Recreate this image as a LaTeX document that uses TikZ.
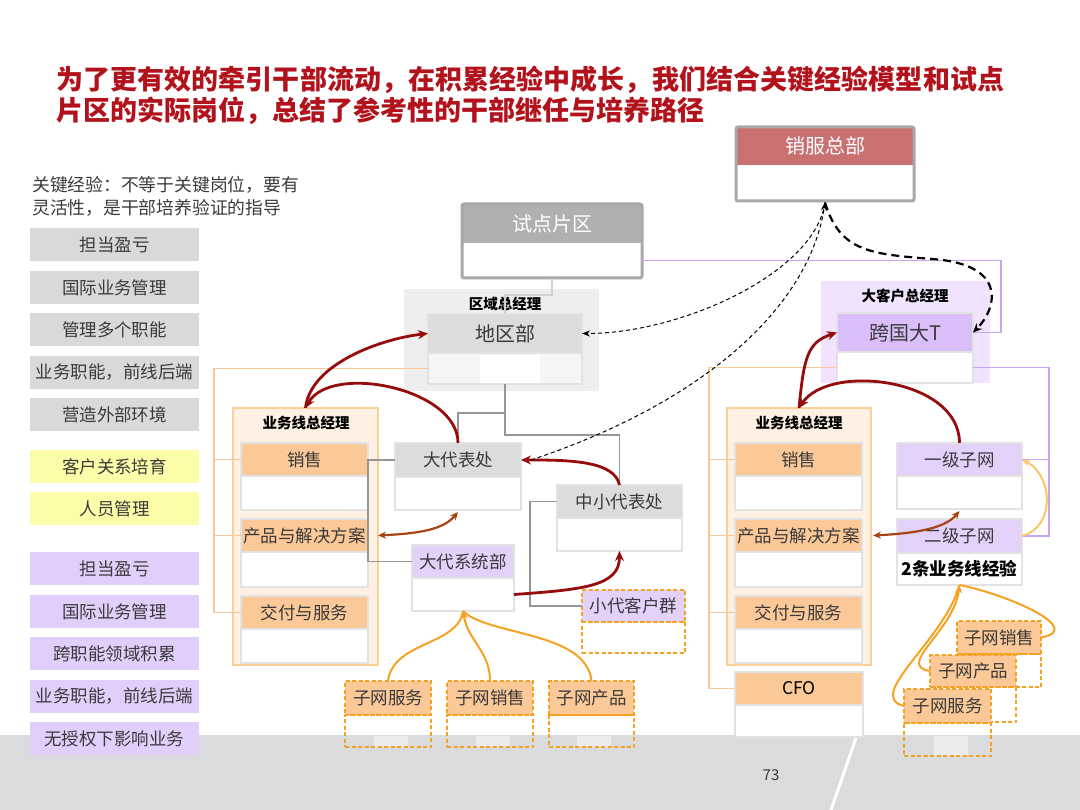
\documentclass[tikz,border=0pt]{standalone}
\usepackage{fontspec}
\setmainfont{Noto Sans CJK SC}
\usetikzlibrary{positioning,arrows.meta,fit}
\XeTeXlinebreaklocale "zh"
\XeTeXlinebreakskip=0pt plus 4pt
\definecolor{titlered}{RGB}{178,18,28}
\definecolor{labelgray}{RGB}{58,58,58}
\definecolor{keygray}{RGB}{217,217,217}
\definecolor{keyyellow}{RGB}{253,252,168}
\definecolor{keypurple}{RGB}{225,206,250}
\definecolor{cardline}{RGB}{226,226,226}
\definecolor{headgray}{RGB}{220,220,220}
\definecolor{pilotgray}{RGB}{176,176,176}
\definecolor{frameline}{RGB}{168,168,168}
\definecolor{hqred}{RGB}{201,112,112}
\definecolor{headorange}{RGB}{251,200,152}
\definecolor{headpurple}{RGB}{228,209,250}
\definecolor{mncpurple}{RGB}{217,190,250}
\definecolor{regiongray}{RGB}{238,238,238}
\definecolor{bizfill}{RGB}{254,240,226}
\definecolor{bizedge}{RGB}{251,207,150}
\definecolor{kafill}{RGB}{241,226,253}
\definecolor{linkgray}{RGB}{150,150,150}
\definecolor{linkpurple}{RGB}{200,165,240}
\definecolor{linkorange}{RGB}{250,200,150}
\definecolor{pathred}{RGB}{150,12,12}
\definecolor{pathbrown}{RGB}{168,68,20}
\definecolor{subnetorange}{RGB}{245,162,35}
\definecolor{arcorange}{RGB}{250,198,105}
\definecolor{bandgray}{RGB}{218,219,220}
\definecolor{stripgray}{RGB}{236,236,238}
\tikzset{
  titletext/.style={font=\fontsize{27}{31}\selectfont\bfseries, text=titlered, inner sep=0pt},
  notetext/.style={font=\fontsize{17.8}{23}\selectfont, text=labelgray, inner sep=0pt, align=left},
  keybox/.style={minimum width=169pt, minimum height=33pt, inner sep=0pt, outer sep=0pt, text=labelgray, font=\fontsize{17.5}{17.5}\selectfont},
  groupbg/.style={inner sep=0pt, outer sep=0pt},
  grouplabel/.style={font=\fontsize{14.5}{14.5}\selectfont\bfseries, inner sep=0pt},
  cardhead/.style={draw=cardline, line width=1.2pt, inner sep=0pt, outer sep=0pt, text=labelgray, font=\fontsize{17.5}{17.5}\selectfont},
  cardbody/.style={draw=cardline, line width=1.2pt, fill=white, inner sep=0pt, outer sep=0pt},
  subnethead/.style={cardhead, draw=subnetorange, line width=1.6pt, dash pattern=on 4pt off 2.5pt, fill=headorange},
  subnetbody/.style={draw=subnetorange, line width=1.6pt, dash pattern=on 4pt off 2.5pt, inner sep=0pt, outer sep=0pt},
  frame/.style={draw=frameline, line width=3pt, rounded corners=2pt, inner sep=0pt},
  graylink/.style={draw=linkgray, line width=1.1pt},
  purplelink/.style={draw=linkpurple, line width=1.3pt},
  orangelink/.style={draw=linkorange, line width=1.3pt},
  redpath/.style={draw=pathred, line width=2.8pt, -{Stealth[length=10pt,width=9pt]}},
  brownpath/.style={draw=pathbrown, line width=2.2pt, {Stealth[length=8pt,width=7pt]}-{Stealth[length=8pt,width=7pt]}},
  subnetline/.style={draw=subnetorange, line width=2pt},
  subnetpath/.style={subnetline, -{Stealth[length=8pt,width=7pt]}},
  hqlink/.style={draw=black, line width=1pt, dash pattern=on 4pt off 3pt, -{Stealth[length=8pt,width=6pt]}},
  hqlinkbold/.style={draw=black, line width=2.2pt, dash pattern=on 8pt off 5pt, -{Stealth[length=9pt,width=8pt]}}
}
\begin{document}
\begin{tikzpicture}[x=1pt,y=-1pt]
\useasboundingbox (0,0) rectangle (1080,810);
% page background
\fill[bandgray] (0,735) rectangle (1080,810);
\draw[white, line width=3pt] (857,735) -- (831,810);
\foreach \sx/\sh in {374/11, 476/11, 577/11, 934/20} \fill[stripgray] (\sx,736) rectangle ++(34,\sh);

% title and note
\node[titletext, anchor=base west, text width=948pt, align=justify] (title1) at (56,90) {\noindent\parfillskip=0pt 为了更有效的牵引干部流动，在积累经验中成长，我们结合关键经验模型和试点\par};
\node[titletext, anchor=base west] (title2) at (56,121) {片区的实际岗位，总结了参考性的干部继任与培养路径};
\node[notetext, anchor=north west] (keynote) at (32,176) {关键经验：不等于关键岗位，要有\\灵活性，是干部培养验证的指导};

% key experience column
\foreach \ky/\kt [count=\ki] in {244.5/担当盈亏, 287.5/国际业务管理, 329.5/管理多个职能, 372.5/业务职能，前线后端, 414.5/营造外部环境}
  \node[keybox, fill=keygray] (keyg\ki) at (114.5,\ky) {\kt};
\foreach \ky/\kt [count=\ki] in {466.5/客户关系培育, 508.5/人员管理}
  \node[keybox, fill=keyyellow] (keyy\ki) at (114.5,\ky) {\kt};
\foreach \ky/\kt [count=\ki] in {568.5/担当盈亏, 611.5/国际业务管理, 653.5/跨职能领域积累, 696.5/业务职能，前线后端, 738.5/无授权下影响业务}
  \node[keybox, fill=keypurple] (keyp\ki) at (114.5,\ky) {\kt};

% group backgrounds
\node[groupbg, fill=regiongray, minimum width=195pt, minimum height=102pt] (qyzjl) at (501.5,340) {};
\node[grouplabel] (qyzjll) at (505,304) {区域总经理};
\node[groupbg, fill=bizfill, draw=bizedge, line width=1.3pt, minimum width=145pt, minimum height=257pt] (ywxL) at (305.5,536.5) {};
\node[grouplabel] (ywxLl) at (306,423) {业务线总经理};
\node[groupbg, fill=bizfill, draw=bizedge, line width=1.3pt, minimum width=144pt, minimum height=257pt] (ywxR) at (799,536.5) {};
\node[grouplabel] (ywxRl) at (799,423) {业务线总经理};
\node[groupbg, fill=kafill, minimum width=169pt, minimum height=102pt] (dkhzjl) at (905.5,332) {};
\node[grouplabel] (dkhzjll) at (905,296) {大客户总经理};

% headquarters and pilot area
\node[cardhead, draw=none, fill=hqred, text=white, minimum width=178pt, minimum height=38pt, font=\fontsize{20}{20}\selectfont] (xfzbh) at (825,146) {销服总部};
\node[cardbody, draw=none, minimum width=178pt, minimum height=36pt, below=0pt of xfzbh] (xfzbb) {};
\node[frame, fit=(xfzbh)(xfzbb)] (xfzb) {};
\node[cardhead, draw=none, fill=pilotgray, text=white, minimum width=180pt, minimum height=39pt, font=\fontsize{20}{20}\selectfont] (sdpqh) at (552,223.5) {试点片区};
\node[cardbody, draw=none, minimum width=180pt, minimum height=35pt, below=0pt of sdpqh] (sdpqb) {};
\node[frame, fit=(sdpqh)(sdpqb)] (sdpq) {};

% region side
\node[cardhead, fill=headgray, minimum width=154pt, minimum height=39pt, font=\fontsize{20}{20}\selectfont] (dqbh) at (505,333.5) {地区部};
\node[cardbody, fill=black!4, minimum width=154pt, minimum height=31pt, below=0pt of dqbh] (dqbb) {};
\fill[white] (480,355) rectangle (540,383);
\node[cardhead, fill=headgray, minimum width=126pt, minimum height=34pt] (ddbch) at (458,460) {大代表处};
\node[cardbody, minimum width=126pt, minimum height=33pt, below=0pt of ddbch] (ddbcb) {};
\node[cardhead, fill=headgray, minimum width=125pt, minimum height=33pt] (zxdbch) at (619.5,501.5) {中小代表处};
\node[cardbody, minimum width=125pt, minimum height=33pt, below=0pt of zxdbch] (zxdbcb) {};
\node[cardhead, fill=headpurple, minimum width=102pt, minimum height=33pt] (ddxtbh) at (463,561.5) {大代系统部};
\node[cardbody, minimum width=102pt, minimum height=33pt, below=0pt of ddxtbh] (ddxtbb) {};
\node[subnethead, fill=headpurple, minimum width=103pt, minimum height=32pt] (xdkhqh) at (633.5,606) {小代客户群};
\node[subnetbody, minimum width=103pt, minimum height=31pt, below=0pt of xdkhqh] (xdkhqb) {};

% business lines, left
\node[cardhead, fill=headorange, minimum width=127pt, minimum height=33pt] (xsLh) at (304.5,459.5) {销售};
\node[cardbody, minimum width=127pt, minimum height=34pt, below=0pt of xsLh] (xsLb) {};
\node[cardhead, fill=headorange, minimum width=127pt, minimum height=33pt] (cpLh) at (304.5,535.5) {产品与解决方案};
\node[cardbody, minimum width=127pt, minimum height=35pt, below=0pt of cpLh] (cpLb) {};
\node[cardhead, fill=headorange, minimum width=127pt, minimum height=33pt] (jfLh) at (304.5,612.5) {交付与服务};
\node[cardbody, minimum width=127pt, minimum height=34pt, below=0pt of jfLh] (jfLb) {};

% business lines, right
\node[cardhead, fill=headorange, minimum width=127pt, minimum height=33pt] (xsRh) at (798.5,459.5) {销售};
\node[cardbody, minimum width=127pt, minimum height=34pt, below=0pt of xsRh] (xsRb) {};
\node[cardhead, fill=headorange, minimum width=127pt, minimum height=33pt] (cpRh) at (798.5,535.5) {产品与解决方案};
\node[cardbody, minimum width=127pt, minimum height=35pt, below=0pt of cpRh] (cpRb) {};
\node[cardhead, fill=headorange, minimum width=127pt, minimum height=33pt] (jfRh) at (798.5,612.5) {交付与服务};
\node[cardbody, minimum width=127pt, minimum height=34pt, below=0pt of jfRh] (jfRb) {};
\node[cardhead, fill=headorange, text=black, minimum width=128pt, minimum height=33pt] (cfoh) at (799,688.5) {CFO};
\node[cardbody, minimum width=128pt, minimum height=32pt, below=0pt of cfoh] (cfob) {};

% key account side
\node[cardhead, fill=mncpurple, minimum width=136pt, minimum height=39pt, font=\fontsize{20}{20}\selectfont] (kgdth) at (905,332.5) {跨国大T};
\node[cardbody, minimum width=136pt, minimum height=31pt, below=0pt of kgdth] (kgdtb) {};
\node[cardhead, fill=headpurple, minimum width=125pt, minimum height=33pt] (yjzwh) at (959.5,459.5) {一级子网};
\node[cardbody, minimum width=125pt, minimum height=33pt, below=0pt of yjzwh] (yjzwb) {};
\node[cardhead, fill=headpurple, minimum width=125pt, minimum height=34pt] (ejzwh) at (959.5,536) {二级子网};
\node[cardbody, minimum width=125pt, minimum height=32pt, below=0pt of ejzwh, font=\fontsize{17.5}{17.5}\selectfont\bfseries] (ejzwb) {2条业务线经验};

% subnet roles
\node[subnethead, minimum width=86pt, minimum height=34pt] (zwfwMh) at (388,698) {子网服务};
\node[subnetbody, minimum width=86pt, minimum height=32pt, below=0pt of zwfwMh] (zwfwMb) {};
\node[subnethead, minimum width=86pt, minimum height=34pt] (zwxsMh) at (490,698) {子网销售};
\node[subnetbody, minimum width=86pt, minimum height=32pt, below=0pt of zwxsMh] (zwxsMb) {};
\node[subnethead, minimum width=85pt, minimum height=34pt] (zwcpMh) at (591.5,698) {子网产品};
\node[subnetbody, minimum width=85pt, minimum height=32pt, below=0pt of zwcpMh] (zwcpMb) {};
\node[subnethead, minimum width=84pt, minimum height=33pt] (zwxsRh) at (999,637.5) {子网销售};
\node[subnetbody, minimum width=84pt, minimum height=33pt, below=0pt of zwxsRh] (zwxsRb) {};
\node[subnethead, minimum width=86pt, minimum height=32pt] (zwcpRh) at (973,671) {子网产品};
\node[subnetbody, minimum width=86pt, minimum height=35pt, below=0pt of zwcpRh] (zwcpRb) {};
\node[subnethead, minimum width=87pt, minimum height=34pt] (zwfwRh) at (947.5,706) {子网服务};
\node[subnetbody, minimum width=87pt, minimum height=33pt, below=0pt of zwfwRh] (zwfwRb) {};

\node[font=\fontsize{15}{15}\selectfont, text=labelgray] (pageno) at (771,775) {73};

% reporting lines
\draw[graylink, draw=black!18] (sdpqb.south) -- ++(0,17) -| (dqbh.north);
\draw[graylink] (dqbb.south) -- ++(0,29) -| (ddbch.north);
\draw[graylink] (dqbb.south) -- ++(0,51) -| (zxdbch.north);
\draw[graylink] (ddbch.west) -- ++(-27,0) |- (ddxtbh.west);
\draw[graylink] (zxdbch.west) -- ++(-27,0) |- (xdkhqh.west);
\coordinate (prtrunk) at (1049,0);
\draw[purplelink] (sdpqb.east) -- ++(359,0) |- (kgdth.east);
\draw[purplelink] (kgdtb.east) -| (prtrunk |- ejzwh.east) -- (ejzwh.east);
\draw[purplelink] (yjzwh.east) -- (prtrunk |- yjzwh.east);
\coordinate (oltrunk) at (214,0);
\draw[orangelink] (dqbb.west) -| (oltrunk |- jfLh.west) -- (jfLh.west);
\draw[orangelink] (xsLh.west) -- (oltrunk |- xsLh.west);
\draw[orangelink] (cpLh.west) -- (oltrunk |- cpLh.west);
\coordinate (ortrunk) at (709,0);
\draw[orangelink] (kgdtb.west) -| (ortrunk |- cfoh.west) -- (cfoh.west);
\draw[orangelink] (xsRh.west) -- (ortrunk |- xsRh.west);
\draw[orangelink] (cpRh.west) -- (ortrunk |- cpRh.west);
\draw[orangelink] (jfRh.west) -- (ortrunk |- jfRh.west);

% career paths
\draw[subnetline] (zwfwMh.north) .. controls +(5,-40) and +(-5,35) .. (ddxtbb.south);
\draw[subnetline] (zwcpMh.north) .. controls +(-5,-50) and +(25,25) .. (ddxtbb.south);
\draw[subnetpath] (zwxsMh.north) .. controls +(0,-30) and +(5,30) .. (ddxtbb.south);
\draw[subnetline] (zwxsRh.east) .. controls +(45,-8) and +(50,10) .. (ejzwb.south);
\draw[subnetline] (zwfwRh.west) .. controls +(-40,-10) and +(-15,55) .. (ejzwb.south);
\draw[subnetpath] (zwcpRh.west) .. controls +(-35,-5) and +(-5,45) .. (ejzwb.south);
\draw[subnetpath, draw=arcorange] (ejzwh.east) .. controls +(35,-10) and +(30,15) .. (yjzwh.east);
\draw[brownpath] ([xshift=10pt]cpLh.east) .. controls +(40,-2) and +(-15,18) .. ([yshift=-2pt]ddbcb.south);
\draw[brownpath] ([xshift=11pt]cpRh.east) .. controls +(40,-2) and +(-15,18) .. ([yshift=-2pt]yjzwb.south);
\draw[redpath] (ddbch.north) .. controls +(0,-55) and +(25,-45) .. (ywxL.north);
\draw[redpath] (ywxL.north) .. controls +(5,-45) and +(-45,5) .. (dqbh.west);
\draw[redpath] (yjzwh.north) .. controls +(0,-65) and +(30,-45) .. (ywxR.north);
\draw[redpath] (ywxR.north) .. controls +(5,-50) and +(-30,10) .. (kgdth.west);
\draw[redpath] (ddxtbb.east) .. controls +(70,-5) and +(0,35) .. (zxdbcb.south);
\draw[redpath] (zxdbch.north) .. controls +(-5,-25) and +(45,0) .. (ddbch.east);

% links to headquarters
\coordinate (hqbend) at (932,259);
\draw[hqlink] ([xshift=10pt]ddbch.east) .. controls +(180,-60) and +(-15,100) .. (xfzb.south);
\draw[hqlink] (xfzb.south) .. controls +(-10,70) and +(100,0) .. (dqbh.east);
\draw[hqlinkbold] (xfzb.south) .. controls +(15,50) and +(-60,-5) .. (hqbend) .. controls +(75,5) and +(25,-25) .. (kgdth.east);
\end{tikzpicture}
\end{document}
